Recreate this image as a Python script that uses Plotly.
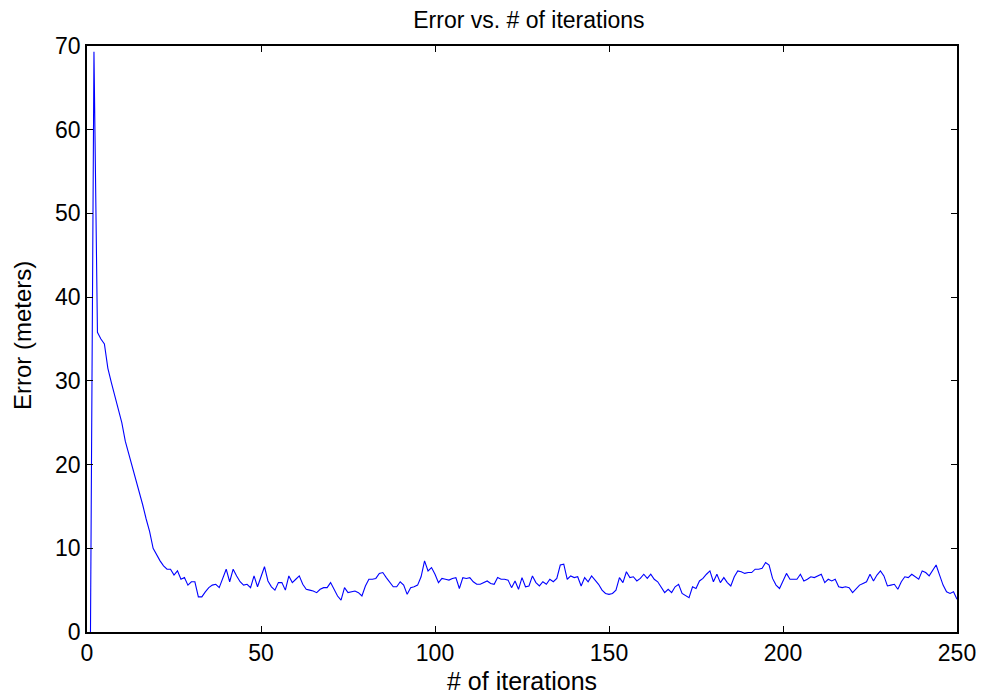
import plotly.graph_objects as go

iterations = list(range(1, 251))
error_m = [
    0.0, 69.3, 35.8, 35.0, 34.4, 31.5, 29.8, 28.2, 26.9, 25.0,
    22.8, 21.3, 20.0, 18.5, 17.0, 15.2, 13.5, 12.0, 10.0, 9.2,
    8.5, 7.9, 7.5, 7.5, 6.8, 7.3, 6.3, 6.5, 5.6, 6.0,
    6.0, 4.2, 4.2, 4.8, 5.3, 5.6, 5.7, 5.3, 6.4, 7.5,
    6.0, 7.5, 6.7, 6.0, 5.6, 5.7, 5.3, 6.7, 5.4, 6.6,
    7.8, 6.1, 5.4, 5.0, 5.9, 5.9, 5.0, 6.7, 5.9, 6.3,
    6.7, 5.7, 5.1, 5.0, 4.9, 4.7, 5.1, 5.3, 5.3, 5.9,
    5.0, 4.3, 3.8, 5.3, 4.7, 4.8, 4.9, 4.7, 4.3, 5.5,
    6.3, 6.3, 6.4, 7.0, 7.1, 6.5, 5.9, 5.4, 5.4, 6.0,
    5.6, 4.5, 5.3, 5.4, 5.6, 6.6, 8.5, 7.3, 7.7, 6.9,
    5.9, 6.4, 6.3, 6.2, 6.4, 6.5, 5.2, 6.5, 6.4, 6.5,
    6.0, 5.7, 5.7, 5.9, 6.1, 5.8, 5.7, 6.5, 6.3, 6.3,
    6.2, 5.3, 6.1, 5.1, 6.5, 5.4, 5.5, 6.7, 5.9, 5.5,
    6.0, 5.7, 6.3, 6.0, 6.4, 8.0, 8.1, 6.3, 6.7, 6.5,
    6.6, 5.5, 6.5, 6.0, 6.7, 6.2, 5.7, 5.0, 4.6, 4.5,
    4.6, 5.0, 6.5, 5.9, 7.2, 6.5, 6.6, 6.1, 6.4, 6.9,
    6.4, 6.9, 6.3, 6.0, 5.3, 4.7, 5.1, 4.7, 5.4, 5.7,
    4.6, 4.3, 4.1, 5.4, 5.2, 6.1, 6.4, 6.9, 7.3, 6.0,
    6.9, 5.9, 6.5, 5.9, 5.5, 6.6, 7.3, 7.2, 7.0, 7.1,
    7.1, 7.5, 7.5, 7.6, 8.3, 8.0, 6.4, 5.6, 5.2, 6.1,
    7.0, 6.3, 6.3, 6.3, 6.9, 6.1, 6.3, 6.6, 6.5, 6.7,
    6.9, 5.9, 6.3, 6.1, 6.3, 5.4, 5.3, 5.4, 5.3, 4.7,
    5.1, 5.6, 5.8, 6.0, 6.9, 6.1, 6.8, 7.3, 6.7, 5.5,
    5.6, 5.7, 5.1, 6.0, 6.6, 6.5, 6.9, 6.6, 6.3, 7.3,
    7.1, 6.7, 7.3, 8.0, 6.8, 5.6, 4.8, 4.6, 4.8, 3.9,
]
x_ticks = [0, 50, 100, 150, 200, 250]
y_ticks = [0, 10, 20, 30, 40, 50, 60, 70]

title_text = "Error vs. # of iterations"
x_label = "# of iterations"
y_label = "Error (meters)"

font_family = "Liberation Sans, Arial, sans-serif"

fig = go.Figure()
fig.add_trace(go.Scatter(
    x=iterations, y=error_m, mode="lines",
    line=dict(color="#0000ff", width=1.1),
    hoverinfo="x+y", showlegend=False,
))

axis_common = dict(
    showgrid=False, zeroline=False, showline=True, linecolor="black",
    linewidth=1.5, mirror="ticks", ticks="inside", ticklen=6,
    tickwidth=1, tickcolor="black", automargin=False,
    tickfont=dict(family=font_family, size=23, color="black"),
)

fig.update_layout(
    width=985, height=696,
    margin=dict(l=87, r=28, t=46, b=64),
    paper_bgcolor="white", plot_bgcolor="white",
    font=dict(family=font_family, color="black"),
    title=dict(text=title_text, x=0.537, xanchor="center",
               y=0.972, yanchor="middle",
               font=dict(family=font_family, size=23, color="black")),
    xaxis=dict(range=[0, 250], tickvals=x_ticks, **axis_common),
    yaxis=dict(range=[0, 70], tickvals=y_ticks, **axis_common),
    annotations=[
        dict(text=x_label, xref="paper", yref="paper", x=0.5, y=0,
             xanchor="center", yanchor="middle", yshift=-49,
             showarrow=False,
             font=dict(family=font_family, size=25, color="black")),
        dict(text=y_label, xref="paper", yref="paper", x=0, y=0.5,
             xanchor="center", yanchor="middle", xshift=-65, yshift=3,
             textangle=-90, showarrow=False,
             font=dict(family=font_family, size=24, color="black")),
    ],
)

fig.write_html("out.html")
